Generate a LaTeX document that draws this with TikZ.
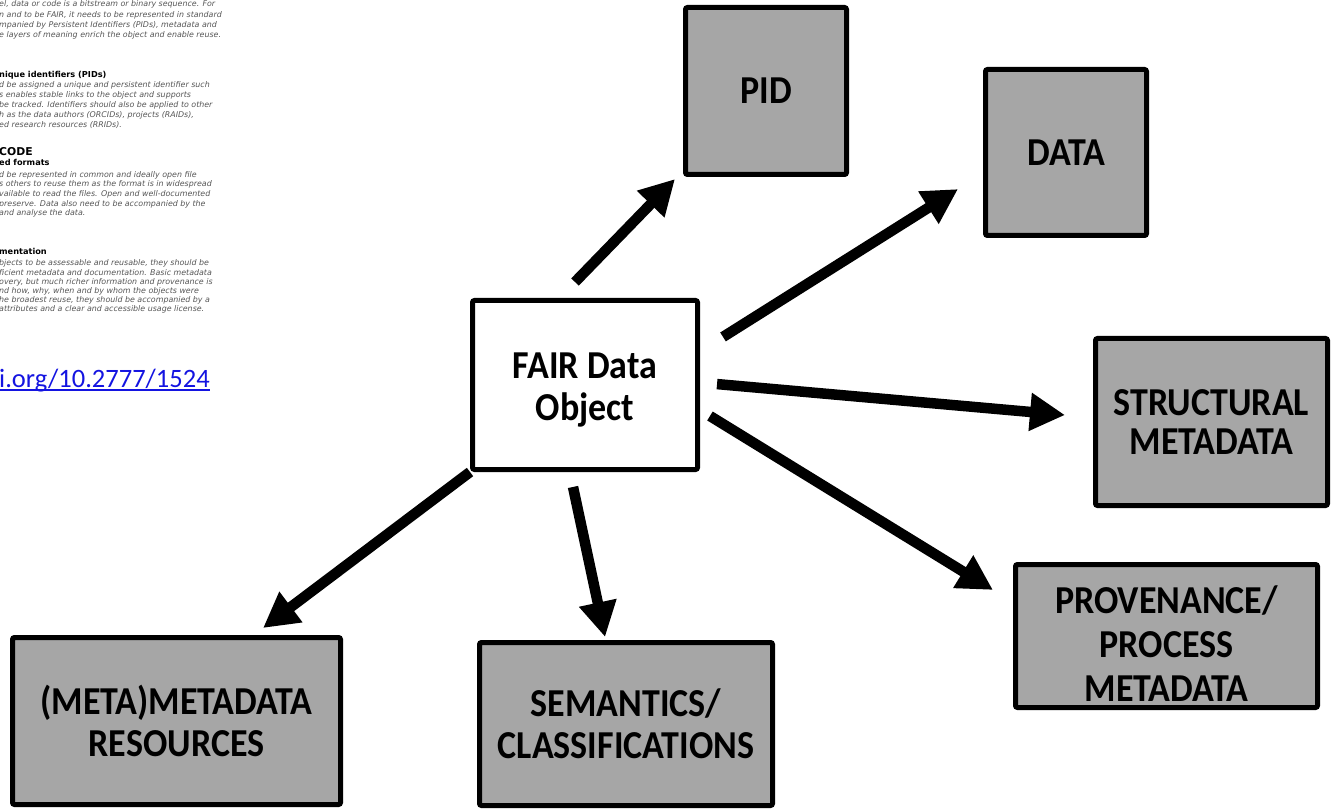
\documentclass[tikz,border=0pt]{standalone}
\usepackage{fontspec}
\usepackage{graphicx}
\setmainfont{Carlito}
\newfontfamily\notefont{DejaVu Sans}[ItalicFont={DejaVu Sans Oblique},BoldFont={DejaVu Sans Bold}]
\usetikzlibrary{arrows.meta,calc}
\definecolor{boxgray}{RGB}{166,166,166}
\definecolor{notegray}{RGB}{85,85,85}
\definecolor{linkblue}{RGB}{20,20,225}
% box captions are set slightly taller than wide
\newcommand{\boxline}[1]{\scalebox{1}[1.1]{#1}}
% underlined hyperlink text
\newcommand{\linkline}[1]{\setbox0\hbox{#1}\rlap{\rule[-3.8pt]{\wd0}{1.4pt}}\box0}

\begin{document}
\begin{tikzpicture}[x=1pt,y=-1pt,
  conceptbox/.style={draw=black, line width=5pt, rounded corners=2pt, fill=boxgray,
    inner sep=0pt, align=center, font=\fontsize{36}{42}\selectfont\bfseries},
  captiontext/.style={inner sep=0pt, align=center, font=\fontsize{36}{42}\selectfont\bfseries},
  flow/.style={line width=10.5pt, -{Triangle[length=35pt,width=36pt]}},
  body/.style={anchor=base west, inner sep=0pt, text=notegray,
    font=\notefont\itshape\fontsize{7.9}{9}\selectfont},
  subhead/.style={anchor=base west, inner sep=0pt, text=black,
    font=\notefont\bfseries\fontsize{8.2}{10}\selectfont},
  mainhead/.style={anchor=base west, inner sep=0pt, text=black,
    font=\notefont\bfseries\fontsize{10.8}{12}\selectfont},
]
\useasboundingbox (0,0) rectangle (1331,810);
\clip (0,0) rectangle (1331,810);

% ---- notes column on the left ----
\node[body] (p1a) at (-1,7) {el, data or code is a bitstream or binary sequence. For};
\node[body] (p1b) at (-1,17.5) {n and to be FAIR, it needs to be represented in standard};
\node[body] (p1c) at (-1,28) {mpanied by Persistent Identifiers (PIDs), metadata and};
\node[body] (p1d) at (-1,38) {e layers of meaning enrich the object and enable reuse.};

\node[subhead] (h2) at (-1,78) {nique identifiers (PIDs)};
\node[body] (p2a) at (-1,88) {d be assigned a unique and persistent identifier such};
\node[body] (p2b) at (-1,98) {s enables stable links to the object and supports};
\node[body] (p2c) at (-1,108) { be tracked. Identifiers should also be applied to other};
\node[body] (p2d) at (-1,118) {h as the data authors (ORCIDs), projects (RAIDs),};
\node[body] (p2e) at (-1,128) {ed research resources (RRIDs).};

\node[mainhead] (h3) at (-1,156) {CODE};
\node[subhead] (h3b) at (-1,166) {ed formats};
\node[body] (p3a) at (-1,178) {d be represented in common and ideally open file};
\node[body] (p3b) at (-1,187) {s others to reuse them as the format is in widespread};
\node[body] (p3c) at (-1,197) {vailable to read the files. Open and well-documented};
\node[body] (p3d) at (-1,207) { preserve. Data also need to be accompanied by the};
\node[body] (p3e) at (-1,216) {and analyse the data.};

\node[subhead] (h4) at (-1,255) {mentation};
\node[body] (p4a) at (-1,266) {bjects to be assessable and reusable, they should be};
\node[body] (p4b) at (-1,276) {ficient metadata and documentation. Basic metadata};
\node[body] (p4c) at (-1,285) {overy, but much richer information and provenance is};
\node[body] (p4d) at (-1,294) {nd how, why, when and by whom the objects were};
\node[body] (p4e) at (-1,303) {he broadest reuse, they should be accompanied by a};
\node[body] (p4f) at (-1,312) {attributes and a clear and accessible usage license.};

\node[anchor=base west, inner sep=0pt, text=linkblue,
  font=\fontsize{26.5}{30}\selectfont] (doi) at (-1,387) {\linkline{i.org/10.2777/1524}};

% ---- concept boxes ----
\node[conceptbox, fill=white, minimum width=225, minimum height=169] (fair) at (585,385) {};
\node[captiontext] (fairtext) at ([yshift=-5pt]fair.center) {\boxline{FAIR Data}\\\boxline{Object}};
\node[conceptbox, minimum width=161, minimum height=167] (pid) at (766,91) {\boxline{PID}};
\node[conceptbox, minimum width=161, minimum height=166] (data) at (1066,152.5) {\boxline{DATA}};
\node[conceptbox, font=\fontsize{36}{39}\selectfont\bfseries, minimum width=232, minimum height=167]
  (struct) at (1211.5,422) {\boxline{STRUCTURAL}\\\boxline{METADATA}};
\node[conceptbox, minimum width=302, minimum height=143] (prov) at (1166.5,636) {};
\node[captiontext, font=\fontsize{36}{44}\selectfont\bfseries] (provtext) at ([yshift=-8pt]prov.center)
  {\boxline{PROVENANCE/}\\\boxline{PROCESS}\\\boxline{METADATA}};
\node[conceptbox, minimum width=293, minimum height=163] (sem) at (626,724)
  {\boxline{SEMANTICS/}\\\boxline{CLASSIFICATIONS}};
\node[conceptbox, minimum width=328, minimum height=167] (meta) at (176.5,721)
  {\boxline{(META)METADATA}\\\boxline{RESOURCES}};

% ---- arrows from the data object to its components ----
\coordinate (a1s) at ($(fair.north west)!0.389!(fair.north east)$);
\coordinate (a1e) at ($(pid.north west)!0.964!(pid.south west)$);
\draw[flow, shorten <=22.3pt, shorten >=11.5pt] (a1s) -- (a1e);

\coordinate (a2s) at ($(fair.north east)!0.307!(fair.south east)$);
\coordinate (a2e) at ($(data.north west)!0.622!(data.south west)$);
\draw[flow, shorten <=27.2pt, shorten >=29.5pt] (a2s) -- (a2e);

\coordinate (a3s) at ($(fair.north east)!0.486!(fair.south east)$);
\coordinate (a3e) at ($(struct.north west)!0.474!(struct.south west)$);
\draw[flow, shorten <=17.1pt, shorten >=28.1pt] (a3s) -- (a3e);

\coordinate (a4s) at ($(fair.north east)!0.643!(fair.south east)$);
\coordinate (a4e) at ($(prov.north west)!0.272!(prov.south west)$);
\draw[flow, shorten <=11.7pt, shorten >=23.5pt] (a4s) -- (a4e);

\coordinate (a5s) at ($(fair.south west)!0.434!(fair.south east)$);
\coordinate (a5e) at ($(sem.north west)!0.432!(sem.north east)$);
\draw[flow, shorten <=15.3pt, shorten >=3.1pt] (a5s) -- (a5e);

\coordinate (a6e) at ($(meta.north west)!0.732!(meta.north east)$);
\draw[flow, shorten >=11.6pt] (fair.south west) -- (a6e);
\end{tikzpicture}
\end{document}
